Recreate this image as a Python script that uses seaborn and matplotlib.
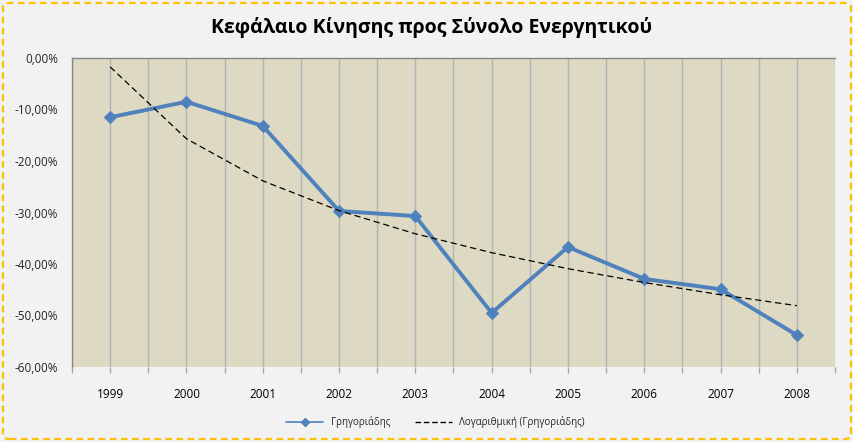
import numpy as np
import pandas as pd
import matplotlib
matplotlib.use("Agg")
import matplotlib.pyplot as plt
from matplotlib.patches import FancyBboxPatch
from matplotlib.lines import Line2D
from matplotlib.ticker import FuncFormatter
import seaborn as sns

years = ["1999", "2000", "2001", "2002", "2003", "2004", "2005", "2006", "2007", "2008"]
values = [-11.5, -8.5, -13.2, -29.7, -30.7, -49.5, -36.7, -42.9, -44.9, -53.8]
series_name = "Γρηγοριάδης"
trend_name = "Λογαριθμική (Γρηγοριάδης)"
title = "Κεφάλαιο Κίνησης προς Σύνολο Ενεργητικού"
y_ticks = [0, -10, -20, -30, -40, -50, -60]

sns.set_style("white")
plt.rcParams["font.family"] = ["Open Sans", "DejaVu Sans"]

df = pd.DataFrame({"idx": np.arange(len(years)), "year": years, "value": values})

# logarithmic trendline (least squares on ln(x), x = 1..n)
xn = np.arange(1, len(values) + 1)
a, b = np.polyfit(np.log(xn), np.array(values), 1)
df["trend"] = a * np.log(xn) + b

fig = plt.figure(figsize=(8.54, 4.42), dpi=100, facecolor="#F2F2F2")
ax = fig.add_axes([72 / 854, 75 / 442, 763 / 854, 309 / 442])
ax.set_facecolor("#DDD9C3")

sns.lineplot(data=df, x="idx", y="trend", ax=ax, color="black", linewidth=0.9,
             linestyle=(0, (5, 3)), zorder=4)
sns.lineplot(data=df, x="idx", y="value", ax=ax, color="#4F81BD", linewidth=2.8,
             marker="D", markersize=6.5, markeredgecolor="#4F81BD", zorder=3)

ax.set_xlim(-0.5, len(years) - 0.5)
ax.set_ylim(-60, 0)
ax.set_xticks(np.arange(-0.5, len(years), 0.5), minor=False)
ax.set_xticklabels([])
ax.set_xticks([], minor=True)
ax.tick_params(axis="x", length=4, color="#A6A6A6", width=1, direction="out", bottom=True)
for i, yl in enumerate(years):
    ax.text(i, -0.09, yl, transform=ax.get_xaxis_transform(), ha="center", va="center",
            fontsize=8.5, color="black")
ax.grid(axis="x", color="#B4B4B4", linewidth=1)
ax.grid(axis="y", visible=False)
ax.set_yticks(y_ticks)
ax.yaxis.set_major_formatter(FuncFormatter(lambda v, p: f"{v:.2f}%".replace(".", ",")))
ax.tick_params(axis="y", length=0, labelsize=8.5, pad=10)
ax.set_xlabel("")
ax.set_ylabel("")
for s in ["right", "bottom"]:
    ax.spines[s].set_visible(False)
for s in ["left", "top"]:
    ax.spines[s].set_color("#868686")
    ax.spines[s].set_linewidth(1)

fig.text(0.505, 1 - 28 / 442, title, ha="center", va="center", fontsize=14,
         fontweight="bold", color="black")

handles = [
    Line2D([0], [0], color="#4F81BD", linewidth=1.2, marker="D", markersize=4,
           markeredgecolor="#4F81BD"),
    Line2D([0], [0], color="black", linewidth=1, linestyle=(0, (4, 2))),
]
fig.legend(handles, [series_name, trend_name], loc="center",
           bbox_to_anchor=(0.51, 1 - 422 / 442), ncol=2, frameon=False, fontsize=7,
           handlelength=3.8, columnspacing=2.5)

border = FancyBboxPatch((3 / 854, 3 / 442), 848 / 854, 436 / 442,
                        boxstyle="round,pad=0,rounding_size=0.008",
                        transform=fig.transFigure, facecolor="none",
                        edgecolor="#FFC000", linewidth=1.6, linestyle=(0, (3, 2)))
fig.patches.append(border)

fig.savefig("out.png", dpi=100, facecolor=fig.get_facecolor())
